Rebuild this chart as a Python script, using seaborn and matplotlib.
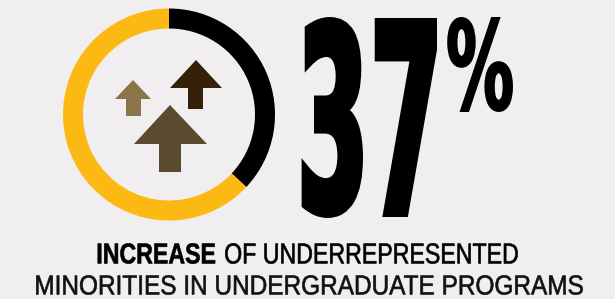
import matplotlib
matplotlib.use("Agg")
import matplotlib.pyplot as plt
import seaborn as sns
from matplotlib.textpath import TextPath
from matplotlib.font_manager import FontProperties
from matplotlib.patches import PathPatch, Polygon
from matplotlib.path import Path
import numpy as np

# data
share_labels = ["Increase", "Rest"]
share_values = [37, 63]
big_number = "37"
big_suffix = "%"
caption_bold = "INCREASE"
caption_rest = " OF UNDERREPRESENTED"
caption_line2 = "MINORITIES IN UNDERGRADUATE PROGRAMS"

W, H = 615, 299
BG = "#f0eeef"
GOLD = "#fdb913"

sns.set_theme(style="white")
plt.rcParams['font.family'] = ['Liberation Sans', 'DejaVu Sans']

fig = plt.figure(figsize=(W / 100, H / 100), dpi=100)
fig.patch.set_facecolor(BG)

# donut in its own square axes (pixel box, top-down coords)
cx, cy, r = 169, 114.5, 106
ax_d = fig.add_axes([(cx - r) / W, (H - cy - r) / H, 2 * r / W, 2 * r / H])
ax_d.pie(share_values, colors=["#000000", GOLD], startangle=90, counterclock=False,
         radius=1, wedgeprops=dict(width=20 / r, linewidth=0))
ax_d.set_xlim(-1, 1)
ax_d.set_ylim(-1, 1)
ax_d.set_aspect("equal")
ax_d.axis("off")

# overlay axes in pixel coords, y down
ax = fig.add_axes([0, 0, 1, 1])
ax.set_xlim(0, W)
ax.set_ylim(H, 0)
ax.axis("off")
ax.patch.set_alpha(0)


def arrow(tip, head_y, head_l, head_r, shaft_l, shaft_r, bottom, color):
    pts = [tip, (head_r, head_y), (shaft_r, head_y), (shaft_r, bottom),
           (shaft_l, bottom), (shaft_l, head_y), (head_l, head_y)]
    ax.add_patch(Polygon(pts, closed=True, facecolor=color, edgecolor="none"))


arrow((133, 80), 99, 115, 151, 126, 141, 116, "#8b7448")
arrow((196, 60), 88, 170, 222, 188, 203, 109, "#33210a")
arrow((170, 105), 144, 134, 207, 159, 181, 172, "#5a4a2f")


def text_paths(parts):
    # parts: list of (string, FontProperties); returns one combined path
    verts, codes = [], []
    x = 0
    for s, fp in parts:
        tp = TextPath((x, 0), s, size=50, prop=fp)
        verts.append(tp.vertices)
        codes.append(tp.codes)
        # advance by width including trailing spaces
        probe = TextPath((0, 0), s.replace(" ", "\u00a0") + "|", size=50, prop=fp)
        bar = TextPath((0, 0), "|", size=50, prop=fp)
        x += probe.get_extents().x1 - bar.get_extents().width
    return Path(np.vstack(verts), np.concatenate(codes))


def fit(path, box, color, stroke=0.0):
    # stroke in pixels, added around the glyph outline
    x0, y0, x1, y1 = box
    h = stroke / 2
    x0, y0, x1, y1 = x0 + h, y0 + h, x1 - h, y1 - h
    v = path.vertices
    mnx, mny = v[:, 0].min(), v[:, 1].min()
    mxx, mxy = v[:, 0].max(), v[:, 1].max()
    sx = (x1 - x0) / (mxx - mnx)
    sy = (y1 - y0) / (mxy - mny)
    nv = np.column_stack([x0 + (v[:, 0] - mnx) * sx, y1 - (v[:, 1] - mny) * sy])
    ax.add_patch(PathPatch(Path(nv, path.codes), facecolor=color,
                           edgecolor=color if stroke else "none",
                           linewidth=stroke * 0.72, joinstyle="miter"))


heavy = FontProperties(family="DejaVu Sans", weight="bold")
bold = FontProperties(family="Liberation Sans", weight="bold")
reg = FontProperties(family="Liberation Sans", weight="normal")

fit(text_paths([(big_number[0], heavy)]), (295, 17, 363, 218), "black", stroke=7)
fit(text_paths([(big_number[1], heavy)]), (368, 18, 437, 217), "black", stroke=7)
fit(text_paths([(big_suffix, heavy)]), (445, 17, 513, 112), "black", stroke=2)

fit(text_paths([(caption_bold, bold), (caption_rest, reg)]), (96, 243, 518, 264), "black", stroke=0.6)
fit(text_paths([(caption_line2, reg)]), (34, 275, 583, 295), "#111111", stroke=0.6)

fig.savefig("out.png", dpi=100, facecolor=BG)
